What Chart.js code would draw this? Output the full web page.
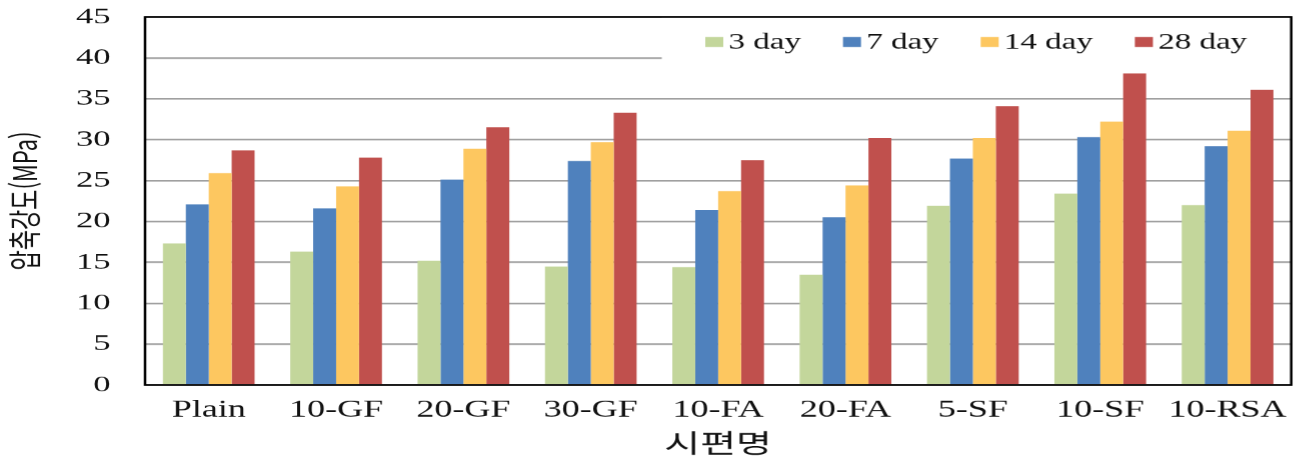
<!DOCTYPE html>
<html lang="ko">
<head>
<meta charset="UTF-8">
<title>압축강도</title>
<script src="https://cdn.jsdelivr.net/npm/chart.js@4.4.1/dist/chart.umd.min.js"></script>
<style>
    html, body { margin: 0; padding: 0; background: #fff; overflow: hidden; }
    /* the figure is drawn narrow and stretched 1.5x sideways, like the original plate */
    #wrap { width: 868.67px; height: 462px; transform: scaleX(1.5); transform-origin: 0 0; }
</style>
</head>
<body>
<div id="wrap">
    <canvas id="graphCanvas"></canvas>
</div>
<script>
    var specimens = ["Plain", "10-GF", "20-GF", "30-GF", "10-FA", "20-FA", "5-SF", "10-SF", "10-RSA"];
    var ages = ["3 day", "7 day", "14 day", "28 day"];
    var day3  = [17.3, 16.3, 15.2, 14.5, 14.4, 13.5, 21.9, 23.4, 22.0];
    var day7  = [22.1, 21.6, 25.1, 27.4, 21.4, 20.5, 27.7, 30.3, 29.2];
    var day14 = [25.9, 24.3, 28.9, 29.7, 23.7, 24.4, 30.2, 32.2, 31.1];
    var day28 = [28.7, 27.8, 31.5, 33.3, 27.5, 30.2, 34.1, 38.1, 36.1];
    var colors = ["#c3d69b", "#4f81bd", "#fdc760", "#c0504d"];

    var serif = "'Liberation Serif', 'Times New Roman', serif";
    var hangul = "'Noto Sans CJK KR', 'Noto Sans', sans-serif";

    // legend sits inside the plot, top right, on a white patch
    var innerLegend = {
        id: 'innerLegend',
        afterDraw: function (chart) {
            var ctx = chart.ctx;
            var area = chart.chartArea;
            ctx.save();
            ctx.fillStyle = '#fff';
            ctx.fillRect(441, area.top, area.right - 441, 49);

            ctx.font = '22px ' + serif;
            ctx.textBaseline = 'middle';
            var x = 470, y = area.top + 25;
            chart.data.datasets.forEach(function (ds) {
                ctx.fillStyle = ds.backgroundColor;
                ctx.fillRect(x, y - 5, 12, 10);
                ctx.fillStyle = '#111';
                ctx.fillText(ds.label, x + 15.5, y + 1);
                x += 15.5 + ctx.measureText(ds.label).width + 28;
            });

            // frame round the plot
            ctx.strokeStyle = '#000';
            ctx.lineWidth = 1.7;
            ctx.strokeRect(area.left, area.top, area.right - area.left, area.bottom - area.top);
            ctx.restore();
        }
    };

    var series = [day3, day7, day14, day28];

    new Chart(document.getElementById("graphCanvas"), {
        type: 'bar',
        data: {
            labels: specimens,
            datasets: ages.map(function (a, i) {
                return {
                    label: a,
                    data: series[i],
                    backgroundColor: colors[i],
                    borderWidth: 0,
                    categoryPercentage: 0.72,
                    barPercentage: 1.0
                };
            })
        },
        options: {
            responsive: true,
            maintainAspectRatio: false,
            devicePixelRatio: 1.5,
            animation: false,
            layout: { padding: { top: 17, right: 5.3, left: 0, bottom: 0 } },
            plugins: {
                legend: { display: false },
                tooltip: { enabled: false }
            },
            scales: {
                x: {
                    grid: { display: false, drawTicks: false },
                    border: { display: false },
                    ticks: { color: '#111', font: { family: serif, size: 24 }, padding: 11, maxRotation: 0, autoSkip: false },
                    title: {
                        display: true,
                        text: '시편명',
                        color: '#111',
                        font: { family: hangul, size: 26 },
                        padding: { top: 0, bottom: 3.4 }
                    },
                    afterFit: function (s) { s.height = 77; }
                },
                y: {
                    min: 0,
                    max: 45,
                    // gap between labels and axis comes from an invisible tick mark
                    ticks: { stepSize: 5, color: '#111', font: { family: serif, size: 23 }, padding: 0 },
                    grid: { color: '#a0a0a0', lineWidth: 1.6, drawTicks: true, tickLength: 23, tickColor: 'rgba(0,0,0,0)' },
                    border: { display: false },
                    title: {
                        display: true,
                        text: '압축강도(MPa)',
                        color: '#111',
                        font: { family: hangul, size: 22 },
                        padding: { top: 3, bottom: 0 }
                    },
                    afterFit: function (s) { s.width = 96.67; }
                }
            }
        },
        plugins: [innerLegend]
    });
</script>
</body>
</html>
